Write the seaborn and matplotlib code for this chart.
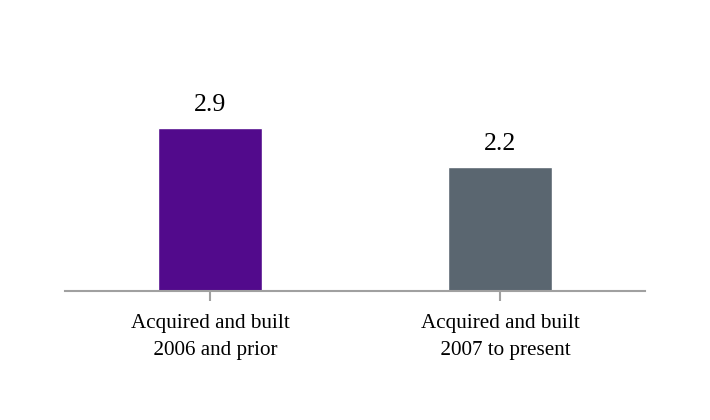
import pandas as pd
import matplotlib.pyplot as plt
import seaborn as sns

categories = ['Acquired and built\n  2006 and prior', 'Acquired and built\n  2007 to present']
values = [2.9, 2.2]
colors = ['#520A8C', '#5A6670']

df = pd.DataFrame({'category': categories, 'value': values})

sns.set_style('white')
plt.rcParams['font.family'] = ['Liberation Serif', 'DejaVu Serif']

fig = plt.figure(figsize=(7.1, 4.2), dpi=100)
ax = fig.add_axes([0.0915, 0.307, 0.817, 0.536])

sns.barplot(data=df, x='category', y='value', hue='category', palette=colors,
            width=0.36, saturation=1, legend=False, ax=ax)

for i, v in enumerate(values):
    ax.annotate('%.1f' % v, (i, v), xytext=(0, 8.5), textcoords='offset points',
                ha='center', va='bottom', fontsize=18.5, color='black')

ax.set_xlim(-0.5, 1.5)
ax.set_ylim(0, 4)
ax.set(xlabel='', ylabel='', yticks=[])
for side in ['top', 'right', 'left']:
    ax.spines[side].set_visible(False)
ax.spines['bottom'].set_color('#A0A0A0')
ax.spines['bottom'].set_linewidth(1.5)
ax.tick_params(axis='x', length=7, width=1.5, color='#A0A0A0', pad=9.5,
               labelsize=15.2, labelcolor='black', direction='out', bottom=True)
for lbl in ax.get_xticklabels():
    lbl.set_linespacing(1.55)

fig.savefig('out.png', dpi=100)
